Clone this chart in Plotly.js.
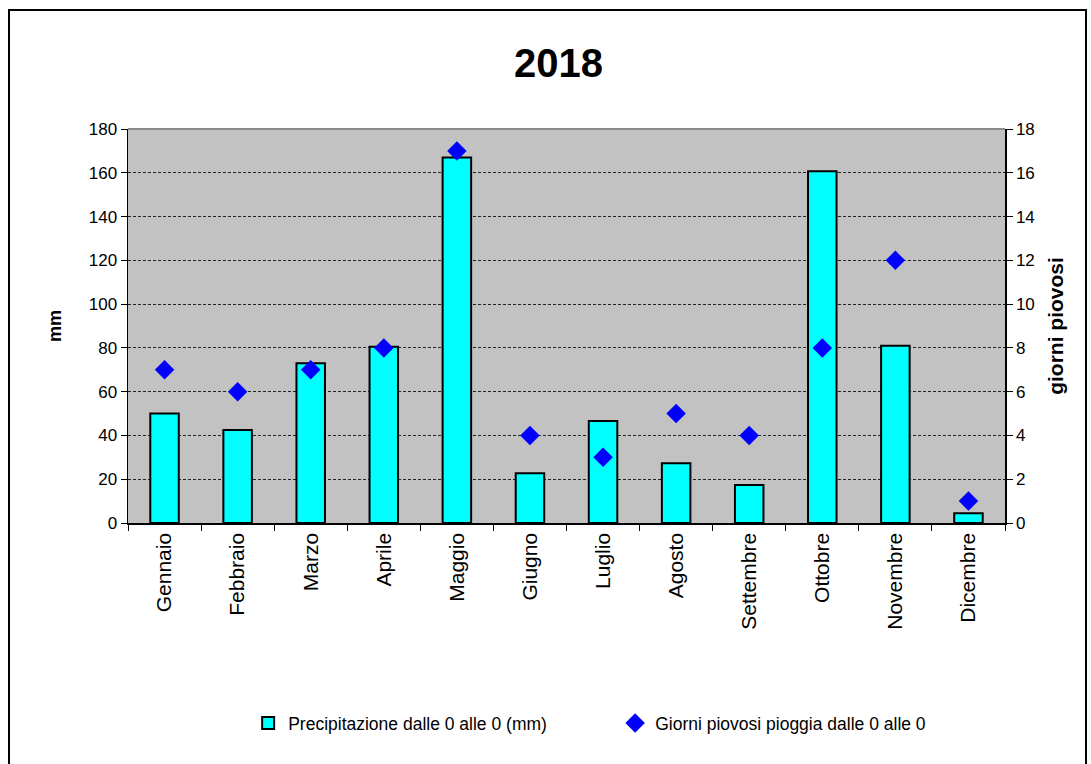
<!DOCTYPE html>
<html>
<head>
<meta charset="utf-8">
<script src="https://cdn.plot.ly/plotly-3.0.1.min.js"></script>
<style>
  html, body { margin: 0; padding: 0; background: #ffffff; overflow: hidden; }
  #chart { width: 1091px; height: 764px; position: absolute; left: 0; top: 0; }
  #frame { position: absolute; left: 8px; top: 9px; width: 1075px; height: 770px; border: 2px solid #000; pointer-events: none; }
</style>
</head>
<body>
<div id="chart"></div>
<div id="frame"></div>
<script>
const months = ["Gennaio", "Febbraio", "Marzo", "Aprile", "Maggio", "Giugno", "Luglio", "Agosto", "Settembre", "Ottobre", "Novembre", "Dicembre"];
const precipitazione = [50, 42.5, 73, 80.5, 167, 22.7, 46.6, 27.3, 17.4, 160.7, 81, 4.4];
const giorniPiovosi = [7, 6, 7, 8, 17, 4, 3, 5, 4, 8, 12, 1];

const font = "Arial, 'Liberation Sans', sans-serif";

const traces = [
  {
    type: "bar",
    name: "Precipitazione dalle 0 alle 0 (mm)",
    x: months,
    y: precipitazione,
    width: 0.39,
    marker: { color: "#00ffff", line: { color: "#000000", width: 2 } },
    yaxis: "y"
  },
  {
    type: "scatter",
    mode: "markers",
    name: "Giorni piovosi pioggia dalle 0 alle 0",
    x: months,
    y: giorniPiovosi,
    marker: { symbol: "diamond", color: "#0000ff", size: 15 },
    yaxis: "y2"
  }
];

const layout = {
  width: 1091,
  height: 764,
  margin: { l: 128, r: 86, t: 129, b: 241 },
  paper_bgcolor: "#ffffff",
  plot_bgcolor: "#c2c2c2",
  font: { family: font, size: 17, color: "#000" },
  title: {
    text: "<b>2018</b>",
    font: { family: font, size: 40, color: "#000" },
    x: 0.512, xref: "container", xanchor: "center",
    y: 0.918, yref: "container", yanchor: "middle"
  },
  showlegend: true,
  legend: {
    orientation: "h",
    x: 0.137, xanchor: "left",
    y: -0.508, yanchor: "middle",
    font: { family: font, size: 17.5, color: "#000" },
    entrywidth: 322,
    entrywidthmode: "pixels",
    itemwidth: 30,
    bgcolor: "rgba(0,0,0,0)"
  },
  xaxis: {
    type: "category",
    range: [-0.5, 11.5],
    tickangle: -90,
    tickfont: { family: font, size: 21, color: "#000" },
    showline: true, linecolor: "#000", linewidth: 1.5,
    ticks: "outside", tickson: "boundaries", ticklen: 6, tickcolor: "#000",
    showgrid: false,
    zeroline: false
  },
  yaxis: {
    range: [0, 180],
    dtick: 20,
    tickfont: { family: font, size: 17, color: "#000" },
    showline: true, linecolor: "#000", linewidth: 1.5,
    ticks: "outside", ticklen: 6, tickcolor: "#000",
    showgrid: true, gridcolor: "#222", griddash: "3px,2px", gridwidth: 1,
    zeroline: false,
    title: { text: "<b>mm</b>", font: { family: font, size: 18, color: "#000" }, standoff: 22 }
  },
  yaxis2: {
    range: [0, 18],
    dtick: 2,
    overlaying: "y",
    side: "right",
    tickfont: { family: font, size: 17, color: "#000" },
    showline: true, linecolor: "#000", linewidth: 1.5,
    ticks: "outside", ticklen: 6, tickcolor: "#000",
    showgrid: false,
    zeroline: false,
    title: { text: "<b>giorni piovosi</b>", font: { family: font, size: 21, color: "#000" }, standoff: 14 }
  },
  shapes: [
    { type: "line", xref: "paper", yref: "paper", x0: 0, x1: 1, y0: 1, y1: 1, line: { color: "#8c8c8c", width: 2 } }
  ]
};

Plotly.newPlot("chart", traces, layout, { displayModeBar: false, staticPlot: true });
</script>
</body>
</html>
